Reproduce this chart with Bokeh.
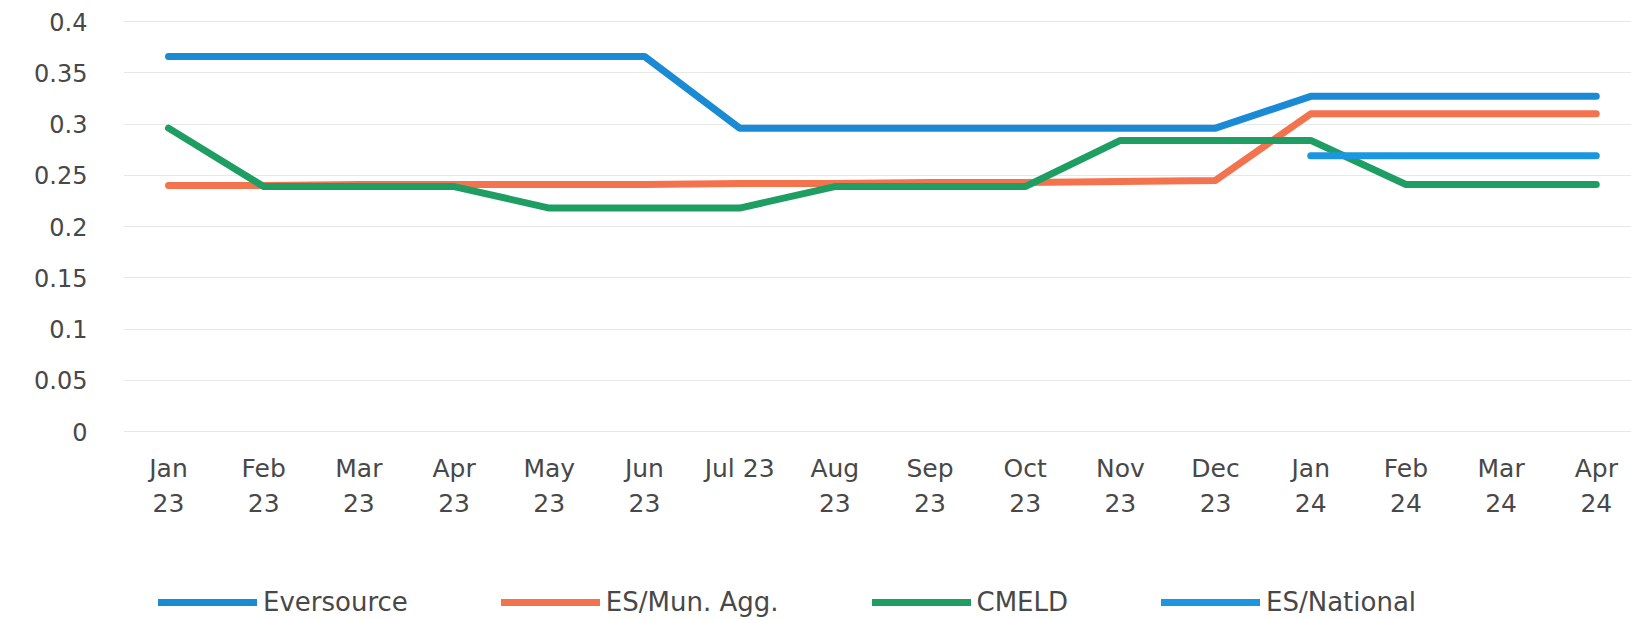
from bokeh.plotting import figure
from bokeh.layouts import column
from bokeh.models import (Range1d, FixedTicker, CustomJSTickFormatter, Legend, LegendItem,
                          ColumnDataSource)
from bokeh.embed import file_html
from bokeh.resources import INLINE

nan = float("nan")

months = ["Jan\n23", "Feb\n23", "Mar\n23", "Apr\n23", "May\n23", "Jun\n23", "Jul 23",
          "Aug\n23", "Sep\n23", "Oct\n23", "Nov\n23", "Dec\n23", "Jan\n24", "Feb\n24",
          "Mar\n24", "Apr\n24"]
eversource = [0.366, 0.366, 0.366, 0.366, 0.366, 0.366, 0.296, 0.296, 0.296, 0.296,
              0.296, 0.296, 0.327, 0.327, 0.327, 0.327]
es_mun_agg = [0.240, 0.240, 0.241, 0.241, 0.241, 0.241, 0.242, 0.242, 0.243, 0.243,
              0.244, 0.245, 0.310, 0.310, 0.310, 0.310]
cmeld = [0.296, 0.239, 0.239, 0.239, 0.218, 0.218, 0.218, 0.239, 0.239, 0.239,
         0.284, 0.284, 0.284, 0.241, 0.241, 0.241]
es_national = [nan, nan, nan, nan, nan, nan, nan, nan, nan, nan,
               nan, nan, 0.269, 0.269, 0.269, 0.269]
y_ticks = [0, 0.05, 0.1, 0.15, 0.2, 0.25, 0.3, 0.35, 0.4]

series = [
    ("Eversource", eversource, "#1a8ad4"),
    ("ES/Mun. Agg.", es_mun_agg, "#f4734f"),
    ("CMELD", cmeld, "#1f9e64"),
    ("ES/National", es_national, "#1c96de"),
]

x = list(range(len(months)))

p = figure(frame_width=1508, frame_height=432, output_backend="svg", toolbar_location=None,
           x_range=Range1d(-0.473, 15.37), y_range=Range1d(-0.0078, 0.4137),
           min_border_left=123, min_border_right=0, min_border_top=7, min_border_bottom=0,
           background_fill_color="white", border_fill_color="white")
p.outline_line_color = None

font = "DejaVu Sans"
label_color = "#484848"

p.xaxis.ticker = FixedTicker(ticks=x)
p.xaxis.major_label_overrides = {i: m for i, m in enumerate(months)}
p.xaxis.major_label_text_font = font
p.xaxis.major_label_text_font_size = "25px"
p.xaxis.major_label_text_color = label_color
p.xaxis.major_label_text_line_height = 1.22
p.xaxis.major_label_standoff = 8
p.yaxis.ticker = FixedTicker(ticks=y_ticks)
p.yaxis.formatter = CustomJSTickFormatter(
    code="return tick.toFixed(2).replace(/0+$/, '').replace(/\\.$/, '');")
p.yaxis.major_label_text_font = font
p.yaxis.major_label_text_font_size = "24px"
p.yaxis.major_label_text_color = label_color
p.yaxis.major_label_standoff = 30
for ax in (p.xaxis, p.yaxis):
    ax.axis_line_color = None
    ax.major_tick_line_color = None
    ax.minor_tick_line_color = None

p.xgrid.grid_line_color = None
p.ygrid.grid_line_color = "#e8e8e8"
p.ygrid.grid_line_width = 1

for name, vals, color in series:
    src = ColumnDataSource(dict(x=x, y=vals))
    p.line("x", "y", source=src, line_color=color, line_width=7,
           line_join="round", line_cap="round")

# legend strip below the chart (its own lines sit outside its visible range)
p2 = figure(width=1631, height=105, output_backend="svg", toolbar_location=None,
            x_range=Range1d(0, 1), y_range=Range1d(0, 1),
            min_border_left=0, min_border_right=0, min_border_top=0, min_border_bottom=0,
            background_fill_color="white", border_fill_color="white")
p2.outline_line_color = None
p2.axis.visible = False
p2.grid.visible = False

items = []
for name, vals, color in series:
    r = p2.line(x=[5, 6], y=[5, 5], line_color=color, line_width=7, line_cap="round")
    items.append(LegendItem(label=name, renderers=[r]))

legend = Legend(items=items, orientation="horizontal", location=(35, 8),
                glyph_width=99, glyph_height=24, label_standoff=6, spacing=93,
                padding=0, margin=0, border_line_color=None,
                label_text_font=font, label_text_font_size="26px",
                label_text_color=label_color, background_fill_alpha=0)
p2.add_layout(legend, "center")

layout = column(p, p2, spacing=0)
open("out.html", "w").write(file_html(layout, INLINE))
